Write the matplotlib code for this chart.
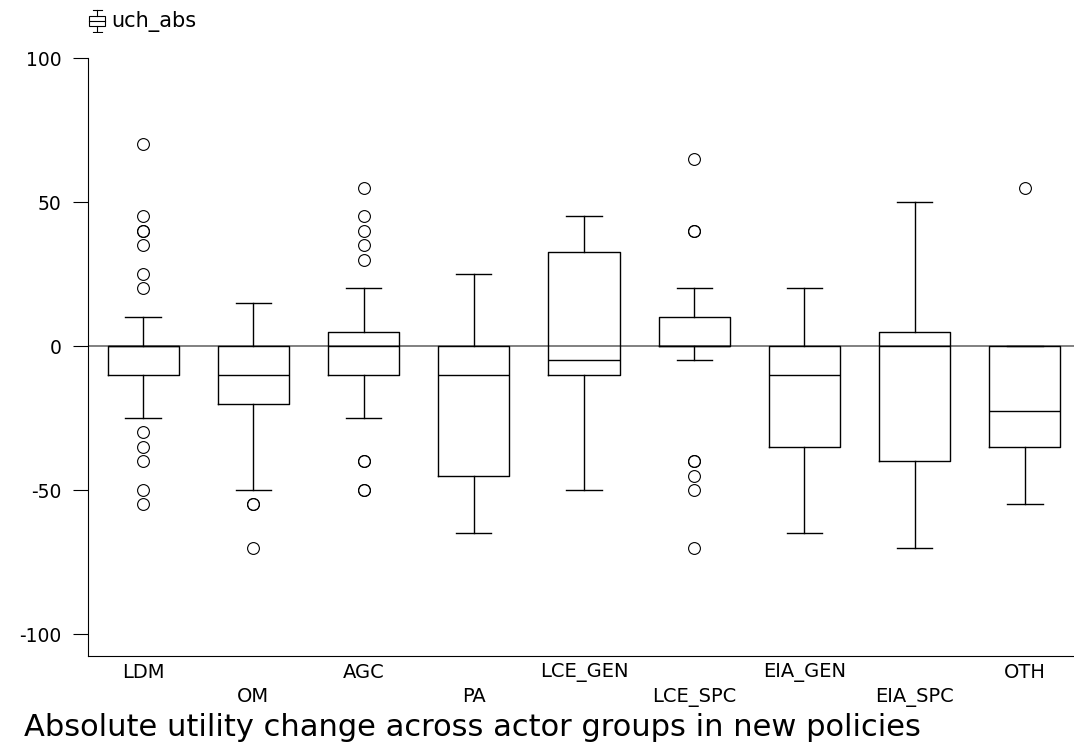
import matplotlib.pyplot as plt
from matplotlib.lines import Line2D

plt.rcParams['font.family'] = ['DejaVu Sans']

# actor groups and box statistics
groups = ['LDM', 'OM', 'AGC', 'PA', 'LCE_GEN', 'LCE_SPC', 'EIA_GEN', 'EIA_SPC', 'OTH']
whisker_high = [10, 15, 20, 25, 45, 20, 20, 50, 0]
q3 = [0, 0, 5, 0, 32.5, 10, 0, 5, 0]
medians = [0, -10, 0, -10, -5, 0, -10, 0, -22.5]
q1 = [-10, -20, -10, -45, -10, 0, -35, -40, -35]
whisker_low = [-25, -50, -25, -65, -50, -5, -65, -70, -55]
# repeated values are drawn twice (heavier circle in the original)
outliers = [
    [70, 45, 40, 40, 35, 25, 20, -30, -35, -40, -50, -55],
    [-55, -55, -70],
    [55, 45, 40, 35, 30, -40, -40, -50, -50],
    [],
    [],
    [65, 40, 40, -40, -40, -45, -50, -70],
    [],
    [],
    [55],
]

stats = []
for i, g in enumerate(groups):
    stats.append({'label': g, 'whishi': whisker_high[i], 'q3': q3[i], 'med': medians[i],
                  'q1': q1[i], 'whislo': whisker_low[i], 'fliers': outliers[i]})

fig = plt.figure(figsize=(10.74, 7.44), dpi=100)
ax = fig.add_axes([88 / 1074, 1 - 656 / 744, 992 / 1074, 598 / 744])

ax.axhline(0, color='#808080', lw=1.4, zorder=1)

box_style = dict(color='black', lw=1.0)
ax.bxp(stats, positions=range(1, len(groups) + 1), widths=0.645,
       boxprops=box_style, medianprops=box_style, whiskerprops=box_style,
       capprops=box_style,
       flierprops=dict(marker='o', markerfacecolor='none', markeredgecolor='black',
                       markersize=8.5, markeredgewidth=0.8),
       capwidths=0.32, zorder=2)

ax.set_xlim(0.5, 9.5)
ax.set_ylim(-107.6, 100)
ax.set_yticks([-100, -50, 0, 50, 100])
ax.set_yticklabels(['-100', '-50', '0', '50', '100'], fontsize=13.5)
ax.tick_params(axis='y', length=11, width=0.8, pad=8)

labels = [g if i % 2 == 0 else '\n' + g for i, g in enumerate(groups)]
ax.set_xticks(range(1, len(groups) + 1))
ax.set_xticklabels(labels, fontsize=14)
for t in ax.get_xticklabels():
    t.set_linespacing(1.33)
ax.tick_params(axis='x', length=0, pad=5)

for s in ['top', 'right']:
    ax.spines[s].set_visible(False)
ax.spines['left'].set_linewidth(0.8)
ax.spines['bottom'].set_linewidth(0.8)

# legend-like key at top left
fig.text(111 / 1074, 1 - 21 / 744, 'uch_abs', fontsize=15, va='center', ha='left')
key = fig.add_axes([87 / 1074, 1 - 33 / 744, 22 / 1074, 24 / 744])
key.axis('off')
key.set_xlim(0, 1)
key.set_ylim(0, 1)
key.add_patch(plt.Rectangle((0.08, 0.3), 0.76, 0.4, fill=False, lw=0.8, ec='black'))
key.add_line(Line2D([0.08, 0.84], [0.5, 0.5], color='black', lw=0.8))
key.add_line(Line2D([0.46, 0.46], [0.05, 0.3], color='black', lw=0.8))
key.add_line(Line2D([0.46, 0.46], [0.7, 0.95], color='black', lw=0.8))
key.add_line(Line2D([0.26, 0.66], [0.05, 0.05], color='black', lw=0.8))
key.add_line(Line2D([0.26, 0.66], [0.95, 0.95], color='black', lw=0.8))

fig.text(24 / 1074, 1 - 727 / 744, 'Absolute utility change across actor groups in new policies',
         fontsize=22, va='center', ha='left')

fig.savefig('out.png', dpi=100)
